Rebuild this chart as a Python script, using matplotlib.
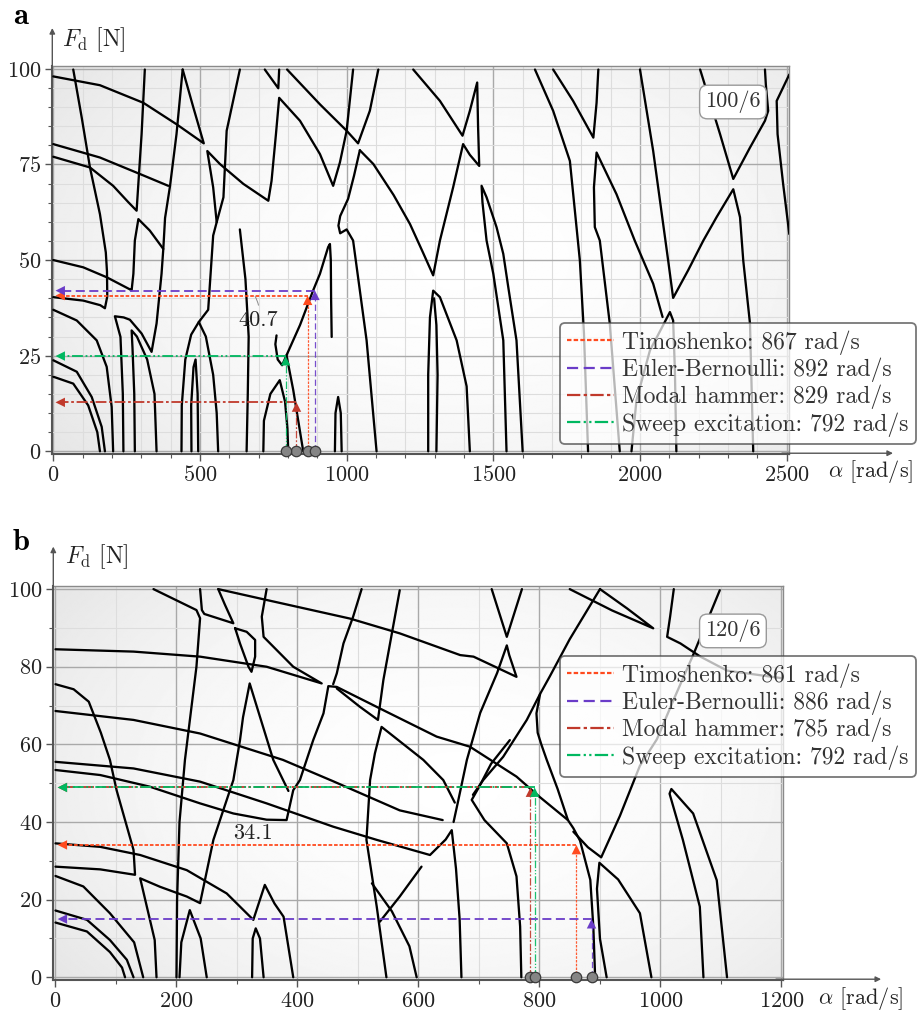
import numpy as np
import matplotlib
matplotlib.use('Agg')
import matplotlib.pyplot as plt
from matplotlib.lines import Line2D
from matplotlib.ticker import MultipleLocator

plt.rcParams['font.family'] = ['cmr10', 'DejaVu Serif']
plt.rcParams['mathtext.fontset'] = 'cm'
plt.rcParams['axes.formatter.use_mathtext'] = True
plt.rcParams['axes.unicode_minus'] = False

# ---- measured values -------------------------------------------------
METHODS = ['Timoshenko', 'Euler-Bernoulli', 'Modal hammer', 'Sweep excitation']
COLORS = ['#ff4b1f', '#6a3cc8', '#c0392b', '#00b860']
STYLES = [(0, (2, 1)), (0, (5, 2.5)), (0, (6, 1.5, 1.5, 1.5)),
          (0, (6, 1.5, 1, 1.5, 1, 1.5))]

A_ALPHA = [867, 892, 829, 792]
A_FORCE = [40.7, 42.0, 12.8, 24.9]
B_ALPHA = [861, 886, 785, 792]
B_FORCE = [34.1, 15.0, 48.9, 48.9]

# stability boundaries (alpha [rad/s], F_d [N])
A_CURVES = [
    [(0, 40.3), (102, 39.4), (160, 38.2), (176, 37.4), (184, 40.5), (183, 47), (179, 52),
     (159, 62), (125, 74.2), (97, 87.2), (68, 99.8)],
    [(0, 37), (80, 34.2), (148, 29), (182, 22.1), (199, 11.6), (204, 0)],
    [(0, 23.8), (80, 20.8), (131, 14.2), (165, 6.4), (176, 0)],
    [(0, 19.5), (68, 17.7), (119, 12), (150, 5), (159, 0)],
    [(0, 50), (102, 48.1), (182, 45.5), (262, 42.3), (267, 42.1), (273, 46.4), (278, 55.1),
     (290, 60.7), (329, 57.7), (375, 52.9)],
    [(0, 98), (159, 95.7), (307, 91.1), (420, 85.5), (513, 80.5), (477, 90), (441, 99.8)],
    [(0, 80.3), (159, 76.8), (295, 72.5), (392, 69.4)],
    [(239, 0), (237, 15), (229, 29.9), (210, 35.3), (240, 35), (261, 34.4), (301, 30.8),
     (335, 26), (352, 33.4), (369, 46.4), (375, 52.9), (381, 61), (398, 69.4), (420, 82.9),
     (441, 99.8)],
    [(0, 77), (125, 74.2), (204, 69.4), (256, 65.1), (284, 62.9), (290, 70), (301, 82.9),
     (312, 99.8)],
    [(278, 0), (276, 15), (270, 27), (267, 31.6), (285, 30), (320, 24), (345, 15), (352, 0)],
    [(437, 0), (438, 12), (450, 24), (470, 30.5), (496, 33.8), (528, 37), (545, 56.4),
     (557, 59.9), (580, 66.4), (591, 83.8), (636, 99.8)],
    [(496, 33.8), (520, 30), (545, 20), (557, 10), (562, 0)],
    [(471, 0), (470, 12), (478, 22), (485, 24), (492, 15), (494, 0)],
    [(557, 59.9), (545, 69), (525, 78.5), (568, 75.1), (648, 69.9), (733, 65.5), (744, 70.7),
     (759, 82.9), (770, 92.4), (841, 86.4), (909, 77.7), (954, 69.4), (977, 75.5),
     (1000, 83.8), (1022, 99.8)],
    [(721, 99.8), (767, 94.9), (770, 99.8)],
    [(797, 99.8), (909, 90.7), (1000, 83.8), (1039, 80.5), (1079, 89), (1108, 99.8)],
    [(1045, 78.7), (1091, 75.1), (1160, 67), (1216, 59.4), (1260, 52), (1295, 46),
     (1318, 55.1), (1363, 69), (1397, 80.3), (1420, 77.5), (1452, 74.6), (1448, 85),
     (1445, 96.4), (1420, 89), (1395, 82.5), (1318, 91.6), (1227, 99.8)],
    [(1045, 78.7), (1025, 72), (1005, 66), (990, 63.5), (978, 61.5), (972, 59), (978, 57),
     (1000, 58), (1022, 55.1), (1068, 29), (1102, 0)],
    [(636, 58), (655, 45), (666, 30), (663, 15), (659, 0)],
    [(795, 25.1), (841, 33), (886, 42.1), (909, 46.4), (937, 53.4), (943, 54.2),
     (946, 50), (947, 40), (949, 29.9)],
    [(761, 30.3), (757, 28), (765, 24), (780, 22.5), (795, 25.1), (818, 16), (852, 0)],
    [(716, 0), (718, 8), (740, 15), (772, 18.6), (790, 13), (798, 6), (801, 0)],
    [(960, 0), (962, 10), (971, 14.2), (980, 10), (983, 0)],
    [(1642, 99.8), (1704, 89), (1761, 75.9), (1795, 49.9), (1809, 30.8), (1823, 0)],
    [(1704, 99.8), (1772, 91.6), (1841, 82), (1852, 91.1), (1858, 99.8)],
    [(1931, 0), (1897, 33.4), (1863, 55.1), (1846, 58.6), (1843, 69), (1852, 78.1),
     (1920, 67.2), (1982, 55.1), (2045, 43.8), (2077, 35.1)],
    [(1971, 0), (1988, 13.4), (2034, 26.4), (2073, 32.1), (2102, 36.4), (2113, 34.2),
     (2119, 21.2), (2124, 0)],
    [(2000, 99.8), (2045, 78.5), (2096, 49.9), (2113, 40.1), (2164, 47.3), (2216, 55.1),
     (2261, 61.2), (2318, 68.5), (2341, 61.2), (2352, 49.9), (2375, 33.4), (2386, 0)],
    [(2205, 99.8), (2273, 82.9), (2318, 71.2), (2375, 79.4), (2426, 86.4), (2437, 89),
     (2429, 95.9), (2426, 99.8)],
    [(2509, 98.5), (2466, 91.6), (2469, 82.9), (2488, 69.9), (2509, 56.8)],
    [(1545, 0), (1534, 29), (1500, 46.4), (1477, 55.1), (1463, 65.1), (1460, 69.4),
     (1477, 66.4), (1511, 58.6), (1534, 51.6), (1551, 42.9), (1579, 29), (1600, 0)],
    [(1278, 0), (1278, 20), (1284, 35), (1295, 42), (1318, 40.3), (1375, 29), (1409, 17),
     (1420, 0)],
    [(1306, 0), (1310, 20), (1306, 33), (1298, 40)],
]

B_CURVES = [
    [(0, 84.5), (129, 83.9), (239, 82.6), (349, 80), (440, 75.7), (393, 80), (344, 87.7),
     (341, 92.9), (349, 100)],
    [(0, 75.5), (30, 74.2), (55, 71), (75, 63), (90, 56), (101, 48.2), (129, 32.8),
     (131.5, 26.4), (74, 27.8), (0, 28.5)],
    [(0, 68.6), (129, 66.3), (239, 62.8), (376, 56), (459, 50.5), (569, 43), (640, 40.5)],
    [(0, 55.5), (129, 53.8), (239, 50.4), (349, 44.8), (459, 38.8), (531, 35.4), (619, 31.5),
     (645, 35.5), (655, 37.9), (662, 28), (668, 15), (671, 0)],
    [(0, 53.4), (74, 52.1), (156, 49.1), (239, 44.8), (294, 42.2), (349, 40.6), (382, 40.5),
     (393, 48.2), (404, 50.8), (426, 61.1), (443, 68), (451, 75), (465, 74.8), (542, 68.8),
     (630, 62), (685, 59.4), (762, 51.7), (800, 46.5), (847, 40.5), (856, 38.4), (867, 35.2),
     (884, 25.1), (889, 13), (892, 0)],
    [(856, 37.5), (880, 33.5), (902, 30.9), (933, 41.6), (966, 54.5), (994, 61.3),
     (1022, 71.6), (1055, 83.4), (1098, 99.7)],
    [(162, 100), (233, 94.6), (239, 92.5), (233, 80), (214, 56), (205, 40), (201, 20), (200, 0)],
    [(239, 100), (242, 94.6), (246, 93.6), (294, 91.2), (280, 96), (269, 100)],
    [(297, 89.9), (305, 86), (319, 80), (324, 78.7), (330, 82.6), (330, 86.9), (316, 89),
     (297, 89.9)],
    [(167, 0), (164, 9.6), (151, 18.2), (140, 25.5), (173, 23.3), (217, 20.8), (239, 19.1),
     (261, 35.4), (294, 50.8), (305, 61.1), (310, 67), (321, 75.7), (338, 67.1), (360, 56),
     (385, 48)],
    [(0, 34.5), (74, 33.6), (140, 31.5), (217, 27.6), (283, 21.6), (316, 16.5), (327, 14.8),
     (346, 23.8), (362, 19), (377, 15.6), (393, 0)],
    [(0, 26.1), (46, 23.4), (90, 16.5), (130, 9), (145, 0)],
    [(0, 17.2), (52, 14.8), (90, 9.6), (118, 4.5), (129, 0)],
    [(0, 14.1), (52, 11.8), (90, 6.5), (110, 2.5), (115, 0)],
    [(205, 0), (208, 9), (222, 17.3), (240, 10), (250, 0)],
    [(325, 0), (326, 10), (331, 12.6), (338, 10), (344, 0)],
    [(911, 0), (900, 9.9), (895, 22.8), (899, 29.5), (930, 25.2), (966, 16.5), (985, 0)],
    [(1071, 0), (1065, 18.2), (1037, 35.4), (1015, 47.3), (1018, 48.5), (1054, 42.2),
     (1093, 25), (1110, 0)],
    [(1022, 100), (1016, 93), (1011, 87.7), (1033, 86), (1066, 82.6), (1110, 79), (1203, 77)],
    [(850, 100), (920, 94.5), (988, 89.9), (945, 95), (900, 100)],
    [(900, 100), (850, 87.1), (817, 77.5), (801, 73), (795, 68), (797, 63), (803, 60),
     (812, 56), (830, 48.5), (847, 40.5)],
    [(801, 73), (779, 66.3), (740, 56.8), (707, 50.8), (690, 47)],
    [(269, 100), (349, 97.2), (487, 92.4), (569, 88.6), (669, 83), (691, 82.6), (762, 77.4),
     (750, 83), (746, 85.5), (730, 78.4), (702, 68.1), (680, 56), (665, 45), (658, 40)],
    [(721, 100), (746, 87.7), (771, 100)],
    [(506, 100), (492, 92.9), (476, 86), (465, 78.3), (459, 75.5)],
    [(465, 74.4), (503, 69.7), (533, 66.3), (542, 76.6), (569, 99.7)],
    [(547, 0), (531, 18.2), (514, 35.4), (520, 50.8), (528, 57.7), (539, 64.5), (608, 56),
     (641, 50.8), (660, 45)],
    [(523, 24.2), (556, 17), (585, 8), (597, 0)],
    [(536, 14.3), (569, 20.8), (605, 28.5)],
    [(751, 61.1), (720, 55), (700, 49), (688, 45.7), (709, 40.5), (746, 34.5), (762, 26),
     (768, 13.1), (770, 0)],
]

A_TICKS = dict(xmaj=500, xmin=100, ymaj=25, ymin=5)
B_TICKS = dict(xmaj=200, xmin=100, ymaj=20, ymin=10)

W, H = 921, 1013
fig = plt.figure(figsize=(W / 100, H / 100), dpi=100)


def panel(rect, xlim, ylim, ticks, curves, alphas, forces, tag, tag_y, boxtxt,
          boxpos, ann_txt, ann_xy, ann_txt_xy, leader, leg_xy, yarrow, xarrow,
          ylab_pos, xlab_pos):
    ax = fig.add_axes(rect)
    ax.set_xlim(*xlim)
    ax.set_ylim(*ylim)

    # soft radial background
    yy, xx = np.mgrid[0:1:300j, 0:1:600j]
    r = np.hypot((xx - 0.55) / 0.62, (yy - 0.5) / 0.75)
    img = 0.997 - 0.08 * np.clip(r, 0, 1.4) ** 2
    ax.imshow(img, extent=(*xlim, *ylim), origin='lower', cmap='gray',
              vmin=0, vmax=1, aspect='auto', zorder=0, interpolation='bilinear')

    ax.xaxis.set_major_locator(MultipleLocator(ticks['xmaj']))
    ax.xaxis.set_minor_locator(MultipleLocator(ticks['xmin']))
    ax.yaxis.set_major_locator(MultipleLocator(ticks['ymaj']))
    ax.yaxis.set_minor_locator(MultipleLocator(ticks['ymin']))
    ax.set_axisbelow(True)
    ax.grid(which='major', color='#a9a9a9', lw=1.0)
    ax.grid(which='minor', color='#dddddd', lw=0.8)
    ax.tick_params(which='major', direction='out', length=5, width=1,
                   color='#555555', labelsize=16, labelcolor='#222222', pad=3)
    ax.tick_params(which='minor', direction='out', length=3, width=0.8,
                   color='#555555')
    for s in ('top', 'right'):
        ax.spines[s].set_color('#8a8a8a')
        ax.spines[s].set_linewidth(1.0)
    for s in ('left', 'bottom'):
        ax.spines[s].set_color('#555555')
        ax.spines[s].set_linewidth(1.5)

    for c in curves:
        xs, ys = zip(*c)
        ax.plot(xs, ys, color='black', lw=1.65, solid_joinstyle='round',
                solid_capstyle='round', zorder=3)

    # read-off lines with arrows
    for a, f, col, ls in zip(alphas, forces, COLORS, STYLES):
        ax.plot([a, a], [0, f - 2], color=col, ls=ls, lw=0.9, alpha=0.9, zorder=5)
        ax.plot([a, xlim[1] * 0.01], [f, f], color=col, ls=ls, lw=1.3, zorder=5)
        ax.annotate('', xy=(a, f), xytext=(a, f - 5),
                    arrowprops=dict(arrowstyle='-|>', color=col, lw=0,
                                    mutation_scale=17, shrinkA=0, shrinkB=0),
                    zorder=6)
        ax.annotate('', xy=(xlim[1] * 0.003, f), xytext=(xlim[1] * 0.05, f),
                    arrowprops=dict(arrowstyle='-|>', color=col, lw=0,
                                    mutation_scale=17, shrinkA=0, shrinkB=0),
                    zorder=6)
    ax.plot(alphas, [0] * len(alphas), 'o', ms=7.5, mfc='#858585', mec='#3a3a3a',
            mew=0.9, clip_on=False, zorder=7)

    # value annotation
    if leader:
        ax.annotate(ann_txt, xy=ann_xy, xytext=ann_txt_xy, fontsize=16, color='#222',
                    ha='center', va='center',
                    arrowprops=dict(arrowstyle='-', color='#888', lw=0.7,
                                    connectionstyle='arc3,rad=0.2', shrinkA=2,
                                    shrinkB=0), zorder=6)
    else:
        ax.text(*ann_txt_xy, ann_txt, fontsize=16, color='#222', ha='center',
                va='center', zorder=6)

    ax.text(*boxpos, boxtxt, transform=ax.transAxes, ha='center', va='center',
            fontsize=16, color='#333', zorder=8,
            bbox=dict(boxstyle='round,pad=0.25,rounding_size=0.35', fc='white',
                      ec='#999999', lw=1.0))

    # axis arrows
    ax.annotate('', xy=(0, yarrow), xytext=(0, 0.99), xycoords='axes fraction',
                arrowprops=dict(arrowstyle='-|>', color='#555', lw=1.0,
                                mutation_scale=8, shrinkA=0, shrinkB=0),
                annotation_clip=False)
    ax.annotate('', xy=(xarrow, 0.002), xytext=(0.99, 0.002), xycoords='axes fraction',
                arrowprops=dict(arrowstyle='-|>', color='#555', lw=1.0,
                                mutation_scale=8, shrinkA=0, shrinkB=0),
                annotation_clip=False)
    ax.text(*ylab_pos, r'$F_{\rm d}$ [N]', transform=ax.transAxes, fontsize=17,
            ha='left', va='center', color='#222')
    ax.text(*xlab_pos, r'$\alpha$ [rad/s]', transform=ax.transAxes, fontsize=16,
            ha='left', va='center', color='#222')

    handles = [Line2D([0], [0], color=c, ls=s, lw=1.6) for c, s in zip(COLORS, STYLES)]
    labels = [f'{m}: {a} rad/s' for m, a in zip(METHODS, alphas)]
    leg = ax.legend(handles, labels, loc='upper left', bbox_to_anchor=leg_xy,
                    bbox_transform=fig.transFigure, fontsize=17, frameon=True,
                    fancybox=True, framealpha=0.72, edgecolor='#444444',
                    handlelength=2.0, handletextpad=0.33, labelspacing=0.12,
                    borderpad=0.3, borderaxespad=0)
    leg.get_frame().set_linewidth(1.3)
    for t in leg.get_texts():
        t.set_color('#333333')
    leg.set_zorder(10)

    fig.text(13 / W, tag_y, tag, fontsize=22, family='cmb10', ha='left', va='center')
    return ax


panel([52.3 / W, 1 - 454 / H, 737 / W, 388.3 / H], (-3.4, 2509), (-0.7, 100.8),
      A_TICKS, A_CURVES, A_ALPHA, A_FORCE, 'a', 1 - 16 / H, '100/6', (0.9236, 0.9065),
      '40.7', (688, 40.5), (698, 34.2), True, (560 / W, 1 - 323 / H), 1.097, 1.1407,
      (0.013, 1.066), (1.052, -0.046))

panel([53.3 / W, 1 - 980 / H, 730 / W, 394 / H], (-3.6, 1203), (-0.7, 100.8),
      B_TICKS, B_CURVES, B_ALPHA, B_FORCE, 'b', 1 - 543 / H, '120/6', (0.931, 0.886),
      '34.1', None, (326, 37.2), False, (560 / W, 1 - 656 / H), 1.10, 1.134,
      (0.016, 1.074), (1.047, -0.046))

fig.savefig('out.png', dpi=100)
